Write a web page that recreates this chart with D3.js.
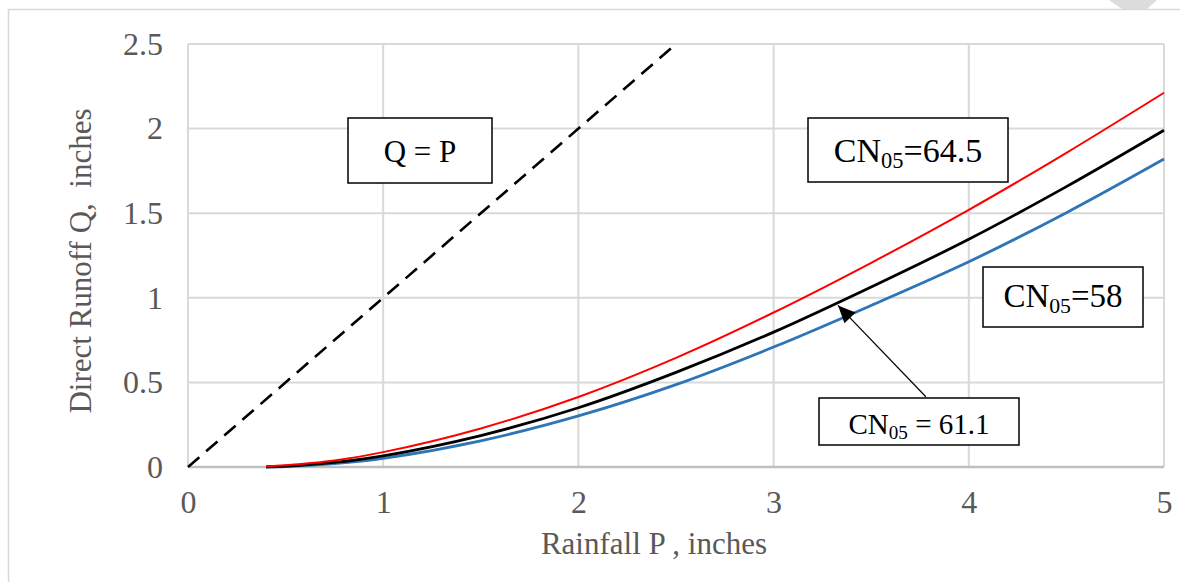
<!DOCTYPE html>
<html>
<head>
<meta charset="utf-8">
<script src="https://cdn.jsdelivr.net/npm/d3@7"></script>
<style>
  body { margin: 0; background: #fff; }
  svg { display: block; font-family: "Liberation Serif", "Times New Roman", serif; }
</style>
</head>
<body>
<div id="chart"></div>
<script>
// rainfall P (inches) where the curves were read
var P = [0.4, 0.5, 0.75, 1, 1.5, 2, 2.5, 3, 3.5, 4, 4.5, 5]
// direct runoff Q (inches)
var cn645 = [0.003, 0.01, 0.038, 0.088, 0.228, 0.414, 0.645, 0.913, 1.207, 1.52, 1.857, 2.212]
var cn611 = [0.001, 0.005, 0.027, 0.066, 0.186, 0.35, 0.559, 0.797, 1.064, 1.346, 1.657, 1.99]
var cn58 = [0, 0.003, 0.02, 0.051, 0.155, 0.302, 0.487, 0.709, 0.955, 1.213, 1.503, 1.82]
// Q = P reference line
var qpP = [0, 2.5]
var qpQ = [0, 2.5]

var xTicks = [0, 1, 2, 3, 4, 5]
var yTicks = [0, 0.5, 1, 1.5, 2, 2.5]

var W = 1180, H = 582
var svg = d3.select("#chart").append("svg").attr("width", W).attr("height", H)

// bit of page chrome in the corner + chart frame
svg.append("path").attr("d", "M1109,0 L1157,0 L1147,9 L1122,9 Z").attr("fill", "#dcdcdc")
svg.append("rect").attr("x", 8.5).attr("y", 9.5).attr("width", W + 20).attr("height", H + 20)
    .attr("fill", "none").attr("stroke", "#d9d9d9").attr("stroke-width", 1.5)

var x = d3.scaleLinear().domain([0, 5]).range([188, 1164])
var y = d3.scaleLinear().domain([0, 2.5]).range([467, 44])

var grey = "#595959"

// gridlines
svg.append("g").selectAll("line").data(yTicks.filter(function(d){return d > 0})).enter().append("line")
    .attr("x1", x(0)).attr("x2", x(5))
    .attr("y1", function(d){return y(d)}).attr("y2", function(d){return y(d)})
    .attr("stroke", "#d9d9d9").attr("stroke-width", 2)
svg.append("g").selectAll("line").data(xTicks).enter().append("line")
    .attr("x1", function(d){return x(d)}).attr("x2", function(d){return x(d)})
    .attr("y1", y(0)).attr("y2", y(2.5))
    .attr("stroke", "#d9d9d9").attr("stroke-width", 2)
// x axis line
svg.append("line").attr("x1", x(0)).attr("x2", x(5)).attr("y1", y(0)).attr("y2", y(0))
    .attr("stroke", "#bfbfbf").attr("stroke-width", 2.5)

// axes labels via d3 axes, with lines hidden
svg.append("g").attr("transform", "translate(0," + y(0) + ")")
    .call(d3.axisBottom(x).tickValues(xTicks).tickFormat(d3.format("d")).tickSize(0).tickPadding(23))
svg.append("g").attr("transform", "translate(" + x(0) + ",0)")
    .call(d3.axisLeft(y).tickValues(yTicks).tickFormat(function(d){return String(d)}).tickSize(0).tickPadding(25))
svg.selectAll(".domain").remove()
svg.selectAll(".tick text").attr("fill", grey).attr("font-size", 32)
    .attr("font-family", "Liberation Serif, Times New Roman, serif")

svg.append("text").text("Rainfall P , inches").attr("x", 654).attr("y", 554)
    .attr("text-anchor", "middle").attr("fill", grey).attr("font-size", 31)
svg.append("text").text("Direct Runoff Q,  inches")
    .attr("transform", "translate(91,261) rotate(-90)")
    .attr("text-anchor", "middle").attr("fill", grey).attr("font-size", 31)
    .style("white-space", "pre")

// lines
var line = d3.line().x(function(d){return x(d[0])}).y(function(d){return y(d[1])}).curve(d3.curveCatmullRom)
function pairs(a, b){ return a.map(function(v, i){return [v, b[i]]}) }

svg.append("path").datum(pairs(qpP, qpQ)).attr("d", d3.line().x(function(d){return x(d[0])}).y(function(d){return y(d[1])}))
    .attr("fill", "none").attr("stroke", "#000").attr("stroke-width", 2.6).attr("stroke-dasharray", "15,9")
svg.append("path").datum(pairs(P, cn58)).attr("d", line)
    .attr("fill", "none").attr("stroke", "#2E75B6").attr("stroke-width", 2.8)
svg.append("path").datum(pairs(P, cn611)).attr("d", line)
    .attr("fill", "none").attr("stroke", "#000").attr("stroke-width", 2.8)
svg.append("path").datum(pairs(P, cn645)).attr("d", line)
    .attr("fill", "none").attr("stroke", "#ff0000").attr("stroke-width", 2)

// annotation boxes
function box(x0, y0, w, h){
    svg.append("rect").attr("x", x0).attr("y", y0).attr("width", w).attr("height", h)
        .attr("fill", "#fff").attr("stroke", "#000").attr("stroke-width", 1.5)
}
function cnLabel(cx, by, size, rest){
    var t = svg.append("text").attr("x", cx).attr("y", by).attr("text-anchor", "middle")
        .attr("font-size", size).attr("fill", "#000").style("white-space", "pre")
    t.append("tspan").text("CN")
    t.append("tspan").text("05").attr("font-size", size * 0.66).attr("dy", size * 0.17)
    t.append("tspan").text(rest).attr("dy", -size * 0.17)
}

box(348, 118, 144, 65)
svg.append("text").text("Q = P").attr("x", 420).attr("y", 162).attr("text-anchor", "middle")
    .attr("font-size", 31).attr("fill", "#000")

box(808, 118, 200, 64)
cnLabel(908, 162, 34, "=64.5")

box(983, 267, 160, 60)
cnLabel(1063, 307, 33, "=58")

// arrow pointing to the CN05 = 61.1 curve
var tipX = x(3.33), tipY = y(0.955), baseX = x(3.78), baseY = y(0.415)
svg.append("line").attr("x1", baseX).attr("y1", baseY).attr("x2", tipX).attr("y2", tipY)
    .attr("stroke", "#000").attr("stroke-width", 1.2)
svg.append("path").attr("d", function(){
    var a = Math.atan2(baseY - tipY, baseX - tipX), L = 19, s = 0.42
    return "M" + tipX + "," + tipY +
        "L" + (tipX + L * Math.cos(a - s)) + "," + (tipY + L * Math.sin(a - s)) +
        "L" + (tipX + L * Math.cos(a + s)) + "," + (tipY + L * Math.sin(a + s)) + "Z"
}).attr("fill", "#000")

box(819, 398, 200, 47)
cnLabel(919, 434, 29, " = 61.1")
</script>
</body>
</html>
